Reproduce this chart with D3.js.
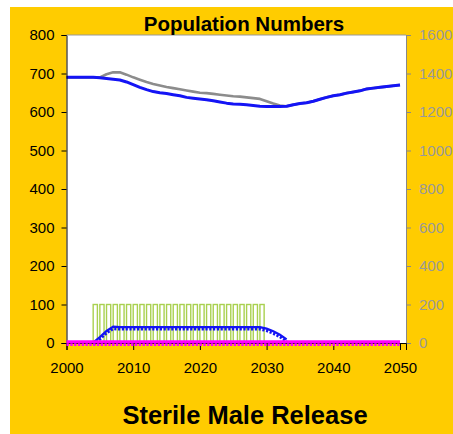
<!DOCTYPE html>
<html><head><meta charset="utf-8">
<script src="https://cdn.jsdelivr.net/npm/d3@7"></script>
<style>
body{margin:0;background:#fff}
svg{display:block}
text{font-family:Arial,"Liberation Sans",sans-serif}
</style>
</head><body>
<svg id="c" width="453" height="434"></svg>
<script>
// ---- data ----
const years = [2000,2001,2002,2003,2004,2005,2006,2007,2008,2009,2010,2011,2012,2013,2014,2015,2016,2017,2018,2019,2020,2021,2022,2023,2024,2025,2026,2027,2028,2029,2030,2031,2032,2033,2034,2035,2036,2037,2038,2039,2040,2041,2042,2043,2044,2045,2046,2047,2048,2049,2050];
const popWithRelease = [690,690,690,690,690,689,687,685,683,678,671,664,658,653,650,648,645,642,638,636,634,632,629,626,623,621,620,619,617,615,614,614,614,615,619,622,624,628,633,638,642,645,649,652,655,660,662,664,666,668,670];
const popNoRelease = [690,690,690,690,690,690,698,703,703,697,690,684,678,673,669,665,662,659,656,653,650,649,647,645,643,641,640,638,636,634,628,622,617,615,619,622,624,628,633,638,642,645,649,652,655,660,662,664,666,668,670];
const releaseYears = [2004,2005,2006,2007,2008,2009,2010,2011,2012,2013,2014,2015,2016,2017,2018,2019,2020,2021,2022,2023,2024,2025,2026,2027,2028,2029];
const releasedMales = [200,200,200,200,200,200,200,200,200,200,200,200,200,200,200,200,200,200,200,200,200,200,200,200,200,200];
const sterileYears = [2004,2005,2006,2007,2008,2009,2010,2011,2012,2013,2014,2015,2016,2017,2018,2019,2020,2021,2022,2023,2024,2025,2026,2027,2028,2029,2030,2031,2032,2033];
const sterileMales = [0,28,60,82,80,80,80,80,80,80,80,80,80,80,80,80,80,80,80,80,80,80,80,80,80,80,72,58,40,16];
const fertileFemalesReleased = [0,0,0,0,0,0,0,0,0,0,0,0,0,0,0,0,0,0,0,0,0,0,0,0,0,0,0,0,0,0,0,0,0,0,0,0,0,0,0,0,0,0,0,0,0,0,0,0,0,0,0];
const leftTicks = [0,100,200,300,400,500,600,700,800];
const rightTicks = [0,200,400,600,800,1000,1200,1400,1600];
const xTicks = [2000,2010,2020,2030,2040,2050];
const chartTitle = "Population Numbers";
const bottomTitle = "Sterile Male Release";

// ---- layout ----
const svg = d3.select("#c");
const L = 66.5, R = 406, T = 35, B = 343;
const x = d3.scaleLinear().domain([2000, 2050.9]).range([L, R]);
const yL = d3.scaleLinear().domain([0, 800]).range([B, T]);
const yR = d3.scaleLinear().domain([0, 1600]).range([B, T]);

svg.append("rect").attr("x",10).attr("y",7).attr("width",443).attr("height",427).attr("fill","#FFCC00");
svg.append("rect").attr("x",L).attr("y",T).attr("width",R-L).attr("height",B-T).attr("fill","#fff");

// bars (right axis)
svg.append("g").selectAll("rect").data(releaseYears.map((d,i)=>({yr:d,v:releasedMales[i]})))
  .join("rect")
  .attr("x", d => x(d.yr))
  .attr("y", d => yR(d.v))
  .attr("width", 4.2)
  .attr("height", d => B - yR(d.v))
  .attr("fill", "#fff")
  .attr("stroke", "#A9D14F")
  .attr("stroke-width", 1.4);

// population lines (left axis)
const lineL = d3.line().x((d,i)=>x(years[i])).y(d=>yL(d));
svg.append("path").datum(popNoRelease).attr("d", lineL).attr("fill","none")
  .attr("stroke","#8C8C8C").attr("stroke-width",2.6).attr("stroke-linejoin","round");
svg.append("path").datum(popWithRelease).attr("d", lineL).attr("fill","none")
  .attr("stroke","#1414F5").attr("stroke-width",3).attr("stroke-linejoin","round");

// sterile male line (right axis), comb style
const sData = sterileYears.map((d,i)=>[x(d), yR(sterileMales[i])]);
const lineS = d3.line();
svg.append("path").datum(sData.map(p=>[p[0],p[1]+1.6])).attr("d", lineS).attr("fill","none")
  .attr("stroke","#1414F5").attr("stroke-width",2.8).attr("stroke-dasharray","2.2,1.6");
svg.append("path").datum(sData.map(p=>[p[0],p[1]-0.5])).attr("d", lineS).attr("fill","none")
  .attr("stroke","#1414F5").attr("stroke-width",2.2);

// axes
const axL = svg.append("g").attr("transform",`translate(${L},0)`)
  .call(d3.axisLeft(yL).tickValues(leftTicks).tickSize(5).tickPadding(7).tickFormat(d3.format("d")));
axL.select(".domain").attr("stroke","#000");
axL.selectAll("line").attr("stroke","#000");
axL.selectAll("text").attr("font-size",15).attr("fill","#000").attr("font-family","Arial, 'Liberation Sans', sans-serif");

const axR = svg.append("g").attr("transform",`translate(${R},0)`)
  .call(d3.axisRight(yR).tickValues(rightTicks).tickSize(5).tickPadding(8).tickFormat(d3.format("d")));
axR.select(".domain").attr("stroke","#888");
axR.selectAll("line").attr("stroke","#888");
axR.selectAll("text").attr("font-size",15).attr("fill","#999").attr("font-family","Arial, 'Liberation Sans', sans-serif");

// top border
svg.append("line").attr("x1",L).attr("x2",R).attr("y1",T).attr("y2",T).attr("stroke","#999").attr("stroke-width",1);

const axB = svg.append("g").attr("transform",`translate(0,${B})`)
  .call(d3.axisBottom(x).tickValues(xTicks).tickSize(7).tickPadding(12).tickFormat(d3.format("d")));
axB.select(".domain").attr("stroke","#000");
axB.selectAll("line").attr("stroke","#000");
axB.selectAll("text").attr("font-size",15).attr("fill","#000").attr("font-family","Arial, 'Liberation Sans', sans-serif");

// magenta zero line, comb style
const mData = years.map((d,i)=>[x(d), yR(fertileFemalesReleased[i])]);
svg.append("path").datum(mData.map(p=>[p[0],p[1]+1.6])).attr("d", lineS).attr("fill","none")
  .attr("stroke","#FF00FF").attr("stroke-width",2.6).attr("stroke-dasharray","2.4,1.4");
svg.append("path").datum(mData.map(p=>[p[0],p[1]-1.2])).attr("d", lineS).attr("fill","none")
  .attr("stroke","#FF00FF").attr("stroke-width",3);

// titles
svg.append("text").attr("x",244).attr("y",31).attr("text-anchor","middle")
  .attr("font-size",20.5).attr("font-weight","bold").attr("fill","#000").text(chartTitle);
svg.append("text").attr("x",245).attr("y",424).attr("text-anchor","middle")
  .attr("font-size",25.5).attr("font-weight","bold").attr("fill","#000").text(bottomTitle);
</script>
</body></html>
